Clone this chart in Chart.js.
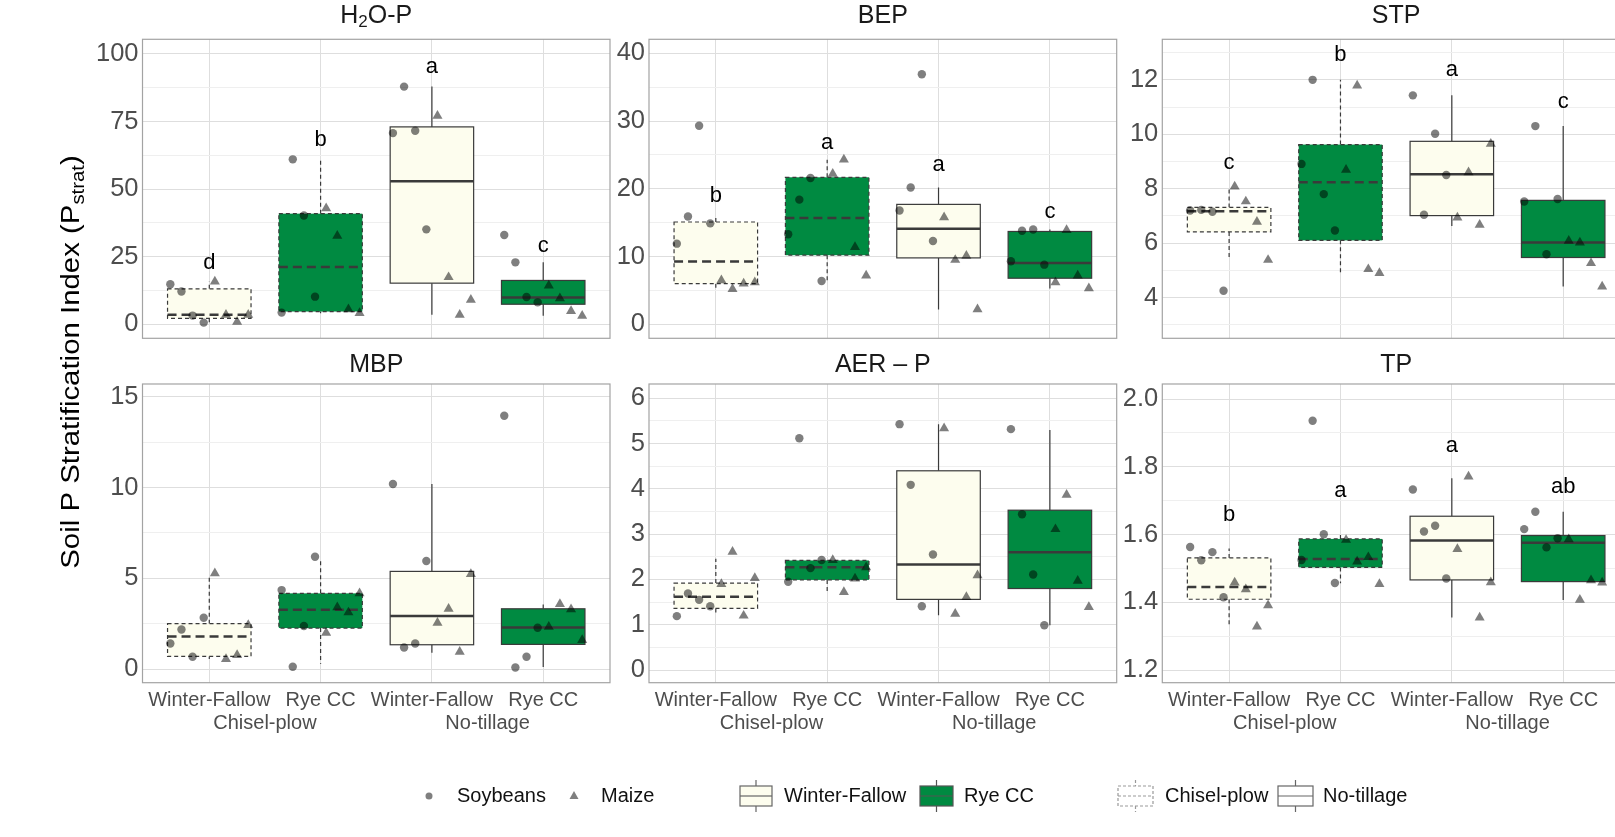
<!DOCTYPE html>
<html>
<head>
<meta charset="utf-8">
<script src="https://cdn.jsdelivr.net/npm/chart.js@4.4.1/dist/chart.umd.min.js"></script>
<style>
  html, body { margin: 0; padding: 0; background: #fff; overflow: hidden; }
  #wrap { position: relative; width: 1615px; height: 837px; overflow: hidden; background: #fff; }
  #wrap canvas { position: absolute; left: 0; top: 0; }
</style>
</head>
<body>
<div id="wrap"></div>
<script>
// categories
const groups = ['Winter-Fallow', 'Rye CC', 'Winter-Fallow', 'Rye CC'];
const tillage = ['Chisel-plow', 'No-tillage'];
const soyOffsets = [-0.35, -0.25, -0.15, -0.05];
const maizeOffsets = [0.05, 0.15, 0.25, 0.35];

// H2O-P
const h2oTicks = ['0', '25', '50', '75', '100'];
const h2oRange = [-5.2, 105.4];
const h2oSoy = [[14.8, 12.1, 3.2, 0.6], [4.3, 61.0, 40.2, 10.2], [70.7, 87.9, 71.6, 35.1], [33.0, 22.9, 10.1, 8.1]];
const h2oMaize = [[15.8, 3.5, 0.9, 3.5], [42.9, 32.7, 5.5, 4.1], [77.1, 17.4, 3.5, 9.0], [14.3, 9.6, 4.9, 3.1]];
const h2oQ1 = [2.2, 4.7, 15.2, 7.4];
const h2oMed = [3.5, 21.2, 52.9, 9.9];
const h2oQ3 = [13.1, 40.9, 73.0, 16.2];
const h2oLo = [0.6, 4.1, 3.5, 3.1];
const h2oHi = [15.8, 61.0, 87.9, 22.9];
const h2oLetters = ['d', 'b', 'a', 'c'];
const h2oLetterY = [22.6, 68.2, 95.1, 29.0];

// BEP
const bepTicks = ['0', '10', '20', '30', '40'];
const bepRange = [-2.07, 42.07];
const bepSoy = [[11.9, 15.9, 29.3, 14.9], [13.3, 18.4, 21.6, 6.4], [16.8, 20.2, 36.9, 12.3], [9.3, 13.8, 14.0, 8.8]];
const bepMaize = [[6.5, 5.2, 6.0, 6.2], [22.2, 24.3, 11.4, 7.2], [15.8, 9.5, 10.1, 2.2], [6.2, 13.9, 7.2, 5.3]];
const bepQ1 = [6.0, 10.2, 9.8, 6.8];
const bepMed = [9.25, 15.7, 14.1, 9.05];
const bepQ3 = [15.1, 21.7, 17.7, 13.7];
const bepLo = [5.2, 6.4, 2.2, 5.3];
const bepHi = [15.9, 24.3, 20.2, 14.0];
const bepLetters = ['b', 'a', 'a', 'c'];
const bepLetterY = [19.0, 26.7, 23.5, 16.6];

// STP
const stpTicks = ['4', '6', '8', '10', '12'];
const stpRange = [2.5, 13.49];
const stpSoy = [[7.2, 7.22, 7.15, 4.25], [8.91, 12.0, 7.8, 6.46], [11.43, 7.04, 10.02, 8.5], [7.53, 10.3, 5.59, 7.62]];
const stpMaize = [[8.08, 7.53, 6.78, 5.38], [8.69, 11.79, 5.04, 4.9], [6.94, 8.6, 6.67, 9.65], [6.08, 6.02, 5.26, 4.4]];
const stpQ1 = [6.41, 6.1, 7.01, 5.47];
const stpMed = [7.17, 8.24, 8.53, 6.02];
const stpQ3 = [7.31, 9.62, 9.74, 7.57];
const stpLo = [5.38, 4.9, 6.63, 4.4];
const stpHi = [8.08, 12.0, 11.43, 10.3];
const stpLetters = ['c', 'b', 'a', 'c'];
const stpLetterY = [8.96, 12.92, 12.35, 11.2];

// MBP
const mbpTicks = ['0', '5', '10', '15'];
const mbpRange = [-0.75, 15.7];
const mbpSoy = [[1.41, 2.18, 0.68, 2.83], [4.35, 0.13, 2.37, 6.19], [10.19, 1.19, 1.41, 5.95], [13.95, 0.09, 0.68, 2.28]];
const mbpMaize = [[5.27, 0.55, 0.77, 2.42], [2.0, 3.4, 3.12, 4.17], [2.55, 3.32, 0.95, 5.23], [2.33, 3.58, 3.29, 1.6]];
const mbpQ1 = [0.70, 2.26, 1.34, 1.36];
const mbpMed = [1.8, 3.27, 2.92, 2.29];
const mbpQ3 = [2.5, 4.17, 5.38, 3.32];
const mbpLo = [0.55, 0.3, 0.9, 0.12];
const mbpHi = [5.1, 6.1, 10.19, 3.55];

// AER-P
const aerTicks = ['0', '1', '2', '3', '4', '5', '6'];
const aerRange = [-0.28, 6.317];
const aerSoy = [[1.19, 1.69, 1.55, 1.41], [1.95, 5.12, 2.25, 2.43], [5.43, 4.09, 1.41, 2.55], [5.32, 3.44, 2.11, 0.99]];
const aerMaize = [[1.9, 2.61, 1.2, 2.03], [2.43, 1.72, 2.02, 2.27], [5.34, 1.24, 1.61, 2.09], [3.11, 3.87, 1.97, 1.39]];
const aerQ1 = [1.36, 1.99, 1.56, 1.8];
const aerMed = [1.62, 2.27, 2.33, 2.6];
const aerQ3 = [1.92, 2.42, 4.4, 3.53];
const aerLo = [1.25, 1.72, 1.21, 0.99];
const aerHi = [2.46, 2.43, 5.43, 5.3];

// TP
const tpTicks = ['1.2', '1.4', '1.6', '1.8', '2.0'];
const tpRange = [1.1626, 2.0443];
const tpSoy = [[1.563, 1.524, 1.548, 1.415], [1.525, 1.936, 1.601, 1.457], [1.733, 1.609, 1.626, 1.47], [1.616, 1.667, 1.562, 1.589]];
const tpMaize = [[1.458, 1.438, 1.328, 1.391], [1.584, 1.52, 1.533, 1.454], [1.557, 1.771, 1.355, 1.459], [1.586, 1.407, 1.465, 1.458]];
const tpQ1 = [1.409, 1.503, 1.466, 1.461];
const tpMed = [1.445, 1.528, 1.582, 1.576];
const tpQ3 = [1.531, 1.587, 1.654, 1.597];
const tpLo = [1.335, 1.456, 1.355, 1.407];
const tpHi = [1.559, 1.601, 1.766, 1.667];
const tpLetters = ['b', 'a', 'a', 'ab'];
const tpLetterY = [1.658, 1.729, 1.861, 1.741];

const yTitleMain = 'Soil P Stratification Index (P';
const yTitleSub = 'strat';

// styles and layout
const FONT = '"Liberation Sans", Arial, Helvetica, sans-serif';
const boxFill = ['#fdfdee', '#008a41', '#fdfdee', '#008a41'];
const gridMajor = '#dedede';
const gridMinor = '#efefef';
const pointColor = 'rgba(0,0,0,0.5)';
// plot areas: left, top, right, bottom
const panelBox = [
  [142.5, 39.3, 610, 338.3], [649, 39.3, 1116.7, 338.3], [1162.3, 39.3, 1630, 338.3],
  [142.5, 384, 610, 682.7], [649, 384, 1116.7, 682.7], [1162.3, 384, 1630, 682.7]
];
const xTickVals = [1, 1.5, 2, 3, 3.5, 4];

const panels = [
  { title: [['H', 0], ['2', 1], ['O-P', 0]], ticks: h2oTicks, range: h2oRange, soy: h2oSoy, maize: h2oMaize,
    q1: h2oQ1, med: h2oMed, q3: h2oQ3, lo: h2oLo, hi: h2oHi, letters: h2oLetters, letterY: h2oLetterY },
  { title: [['BEP', 0]], ticks: bepTicks, range: bepRange, soy: bepSoy, maize: bepMaize,
    q1: bepQ1, med: bepMed, q3: bepQ3, lo: bepLo, hi: bepHi, letters: bepLetters, letterY: bepLetterY },
  { title: [['STP', 0]], ticks: stpTicks, range: stpRange, soy: stpSoy, maize: stpMaize,
    q1: stpQ1, med: stpMed, q3: stpQ3, lo: stpLo, hi: stpHi, letters: stpLetters, letterY: stpLetterY },
  { title: [['MBP', 0]], ticks: mbpTicks, range: mbpRange, soy: mbpSoy, maize: mbpMaize,
    q1: mbpQ1, med: mbpMed, q3: mbpQ3, lo: mbpLo, hi: mbpHi, letters: [], letterY: [] },
  { title: [['AER \u2013 P', 0]], ticks: aerTicks, range: aerRange, soy: aerSoy, maize: aerMaize,
    q1: aerQ1, med: aerMed, q3: aerQ3, lo: aerLo, hi: aerHi, letters: [], letterY: [] },
  { title: [['TP', 0]], ticks: tpTicks, range: tpRange, soy: tpSoy, maize: tpMaize,
    q1: tpQ1, med: tpMed, q3: tpQ3, lo: tpLo, hi: tpHi, letters: tpLetters, letterY: tpLetterY }
];

// draw text made of normal and subscript parts, centred on (cx, cy)
function drawRich(ctx, parts, cx, cy, size, subSize, subDrop) {
  ctx.textBaseline = 'middle';
  ctx.textAlign = 'left';
  let w = 0;
  parts.forEach(([t, sub]) => {
    ctx.font = (sub ? subSize : size) + 'px ' + FONT;
    w += ctx.measureText(t).width;
  });
  let x = cx - w / 2;
  parts.forEach(([t, sub]) => {
    ctx.font = (sub ? subSize : size) + 'px ' + FONT;
    ctx.fillText(t, x, cy + (sub ? subDrop : 0));
    x += ctx.measureText(t).width;
  });
}

function drawBox(ctx, xs, ys, p, g) {
  const c = g + 1;
  const dashed = g < 2;
  const xl = xs.getPixelForValue(c - 0.375);
  const xr = xs.getPixelForValue(c + 0.375);
  const xc = xs.getPixelForValue(c);
  const yq1 = ys.getPixelForValue(p.q1[g]);
  const yq3 = ys.getPixelForValue(p.q3[g]);
  const ym = ys.getPixelForValue(p.med[g]);
  const ylo = ys.getPixelForValue(p.lo[g]);
  const yhi = ys.getPixelForValue(p.hi[g]);

  ctx.strokeStyle = '#3a3a3a';
  ctx.lineWidth = 1.2;
  ctx.setLineDash(dashed ? [4, 3] : []);
  ctx.beginPath();
  ctx.moveTo(xc, yq3); ctx.lineTo(xc, yhi);
  ctx.moveTo(xc, yq1); ctx.lineTo(xc, ylo);
  ctx.stroke();

  ctx.fillStyle = boxFill[g];
  ctx.fillRect(xl, yq3, xr - xl, yq1 - yq3);
  ctx.strokeRect(xl, yq3, xr - xl, yq1 - yq3);

  ctx.lineWidth = 2.5;
  ctx.setLineDash(dashed ? [9, 5] : []);
  ctx.beginPath();
  ctx.moveTo(xl, ym); ctx.lineTo(xr, ym);
  ctx.stroke();
  ctx.setLineDash([]);
}

function drawYTitle(ctx) {
  ctx.save();
  ctx.translate(72, 362);
  ctx.rotate(-Math.PI / 2);
  ctx.scale(1.13, 1);
  ctx.fillStyle = '#000';
  drawRich(ctx, [[yTitleMain, 0], [yTitleSub, 1], [')', 0]], 0, 0, 26, 18, 7);
  ctx.restore();
}

function legendKey(ctx, x, w, fill, stroke, dashed) {
  const y0 = 786, y1 = 806, xc = x + w / 2;
  ctx.strokeStyle = stroke;
  ctx.lineWidth = 1.2;
  ctx.setLineDash(dashed ? [3, 2] : []);
  ctx.beginPath();
  ctx.moveTo(xc, 780); ctx.lineTo(xc, y0);
  ctx.moveTo(xc, y1); ctx.lineTo(xc, 812);
  ctx.stroke();
  ctx.fillStyle = fill;
  ctx.fillRect(x, y0, w, y1 - y0);
  ctx.strokeRect(x, y0, w, y1 - y0);
  ctx.beginPath();
  ctx.moveTo(x, (y0 + y1) / 2); ctx.lineTo(x + w, (y0 + y1) / 2);
  ctx.stroke();
  ctx.setLineDash([]);
}

function drawLegend(ctx) {
  ctx.save();
  const y = 796;
  ctx.fillStyle = pointColor;
  ctx.beginPath(); ctx.arc(429, y, 3.5, 0, Math.PI * 2); ctx.fill();
  ctx.beginPath();
  ctx.moveTo(574, y - 5); ctx.lineTo(578.5, y + 3); ctx.lineTo(569.5, y + 3); ctx.closePath();
  ctx.fill();

  legendKey(ctx, 740, 32, boxFill[0], '#666', false);
  legendKey(ctx, 920, 33, boxFill[1], '#555', false);
  legendKey(ctx, 1118, 35, '#fff', '#999', true);
  legendKey(ctx, 1278, 35, '#fff', '#666', false);

  ctx.fillStyle = '#111';
  ctx.font = '20px ' + FONT;
  ctx.textAlign = 'left';
  ctx.textBaseline = 'middle';
  ctx.fillText('Soybeans', 457, y);
  ctx.fillText('Maize', 601, y);
  ctx.fillText(groups[0], 784, y);
  ctx.fillText(groups[1], 964, y);
  ctx.fillText(tillage[0], 1165, y);
  ctx.fillText(tillage[1], 1323, y);
  ctx.restore();
}

function panelPlugin(k, p) {
  return {
    id: 'panelBoxes' + k,
    beforeDatasetsDraw(chart) {
      const { ctx, scales } = chart;
      ctx.save();
      for (let g = 0; g < 4; g++) drawBox(ctx, scales.x, scales.y, p, g);
      ctx.restore();
    },
    afterDatasetsDraw(chart) {
      const { ctx, scales, chartArea } = chart;
      ctx.save();
      ctx.fillStyle = '#000';
      ctx.font = '22px ' + FONT;
      ctx.textAlign = 'center';
      ctx.textBaseline = 'middle';
      p.letters.forEach((t, g) => {
        ctx.fillText(t, scales.x.getPixelForValue(g + 1), scales.y.getPixelForValue(p.letterY[g]));
      });
      ctx.strokeStyle = '#a3a3a3';
      ctx.lineWidth = 1.2;
      ctx.strokeRect(chartArea.left, chartArea.top, chartArea.right - chartArea.left, chartArea.bottom - chartArea.top);
      ctx.restore();
    },
    afterDraw(chart) {
      const { ctx, chartArea } = chart;
      ctx.save();
      ctx.fillStyle = '#1a1a1a';
      const cy = k < 3 ? 16.5 : 365;
      drawRich(ctx, p.title, (chartArea.left + chartArea.right) / 2, cy, 25, 17, 6);
      if (k === 0) {
        drawYTitle(ctx);
        drawLegend(ctx);
      }
      ctx.restore();
    }
  };
}

function makePanel(k, p) {
  const [L, T, R, B] = panelBox[k];
  const bottomRow = k >= 3;
  const CW = 1640, CH = 837, YW = 70, XH = bottomRow ? 60 : 10;
  const canvas = document.createElement('canvas');
  canvas.width = CW;
  canvas.height = CH;
  canvas.style.width = CW + 'px';
  canvas.style.height = CH + 'px';
  document.getElementById('wrap').appendChild(canvas);

  const majors = p.ticks.map(Number);
  const step = majors[1] - majors[0];
  const yTicks = majors.slice();
  for (let i = -1; i < majors.length; i++) {
    const v = majors[0] + (i + 0.5) * step;
    if (v > p.range[0] && v < p.range[1]) yTicks.push(v);
  }
  const majorIndex = v => majors.findIndex(m => Math.abs(m - v) < 1e-9);

  const soyPts = p.soy.flatMap((vals, g) => vals.map((v, j) => ({ x: g + 1 + soyOffsets[j], y: v })));
  const maizePts = p.maize.flatMap((vals, g) => vals.map((v, j) => ({ x: g + 1 + maizeOffsets[j], y: v })));

  return new Chart(canvas, {
    type: 'scatter',
    data: {
      datasets: [
        { label: 'Soybeans', data: soyPts, pointStyle: 'circle', pointRadius: 4.2,
          pointBackgroundColor: pointColor, backgroundColor: pointColor, pointBorderWidth: 0, borderWidth: 0 },
        { label: 'Maize', data: maizePts, pointStyle: 'triangle', pointRadius: 5.8,
          pointBackgroundColor: pointColor, backgroundColor: pointColor, pointBorderWidth: 0, borderWidth: 0 }
      ]
    },
    options: {
      responsive: false,
      animation: false,
      devicePixelRatio: 1,
      events: [],
      layout: { autoPadding: false, padding: { left: L - YW, top: T, right: CW - R, bottom: CH - B - XH } },
      plugins: { legend: { display: false }, tooltip: { enabled: false }, title: { display: false } },
      scales: {
        x: {
          type: 'linear', min: 0.4, max: 4.6,
          afterBuildTicks: s => { s.ticks = xTickVals.map(v => ({ value: v })); },
          afterFit: s => { s.height = XH; },
          border: { display: false },
          grid: {
            drawTicks: false, lineWidth: 1,
            color: c => (c.tick && Number.isInteger(c.tick.value)) ? gridMajor : 'rgba(0,0,0,0)'
          },
          ticks: {
            display: bottomRow, autoSkip: false, maxRotation: 0, minRotation: 0, padding: 5.8,
            color: '#4d4d4d', font: { family: FONT, size: 20, lineHeight: 1.15 },
            callback: v => {
              if (v === 1.5) return ['', tillage[0]];
              if (v === 3.5) return ['', tillage[1]];
              return groups[v - 1];
            }
          }
        },
        y: {
          type: 'linear', min: p.range[0], max: p.range[1],
          afterBuildTicks: s => { s.ticks = yTicks.map(v => ({ value: v })); },
          afterFit: s => { s.width = YW; },
          border: { display: false },
          grid: {
            drawTicks: false, lineWidth: 1,
            color: c => (c.tick && majorIndex(c.tick.value) >= 0) ? gridMajor : gridMinor
          },
          ticks: {
            autoSkip: false, padding: 4, color: '#4d4d4d', font: { family: FONT, size: 25.5 },
            callback: v => { const i = majorIndex(v); return i >= 0 ? p.ticks[i] : ''; }
          }
        }
      }
    },
    plugins: [panelPlugin(k, p)]
  });
}

panels.forEach((p, k) => makePanel(k, p));
</script>
</body>
</html>
